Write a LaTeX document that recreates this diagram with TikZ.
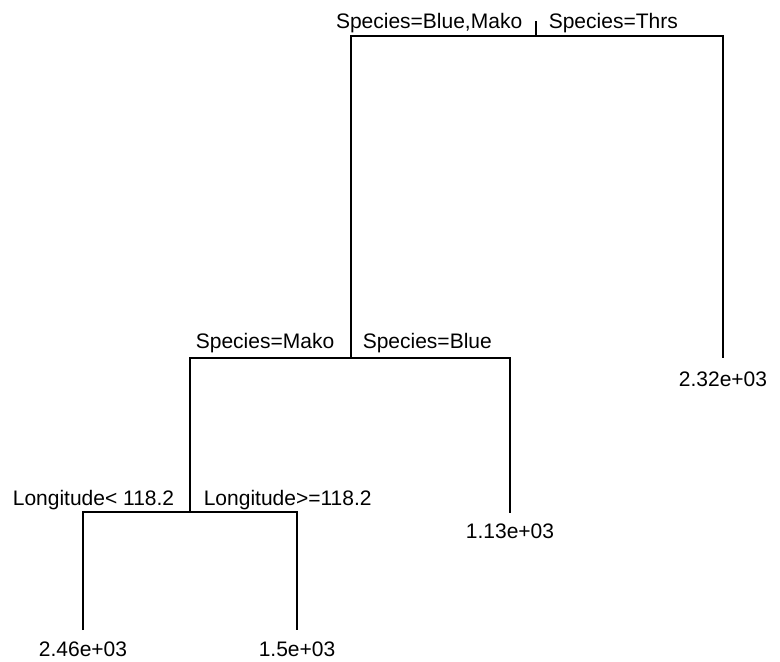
\documentclass[tikz,border=0pt]{standalone}
\usepackage{fontspec}
\setmainfont{Liberation Sans}
\usetikzlibrary{positioning}
\begin{document}
\begin{tikzpicture}[x=1pt,y=-1pt,line width=1.6pt,
    every node/.style={font=\fontsize{21}{25}\selectfont,inner sep=0pt}]
    \useasboundingbox (0,0) rectangle (780,662);

    \coordinate (t0) at (536,21);
    \coordinate (s1) at (536,36);
    \coordinate (s2) at (351,358);
    \coordinate (s3) at (190,512);

    \coordinate (e1) at (83,630);
    \coordinate (e2) at (297,630);
    \coordinate (e3) at (510,513);
    \coordinate (e4) at (723,358);

    \node[anchor=base east] (l1) at (523,28) {Species=Blue,Mako};
    \node[anchor=base west] (r1) at (548,28) {Species=Thrs};
    \node[anchor=base east] (l2) at (335,348) {Species=Mako};
    \node[anchor=base west] (r2) at (362,348) {Species=Blue};
    \node[anchor=base east] (l3) at (175,505) {Longitude< 118.2};
    \node[anchor=base west] (r3) at (203,505) {Longitude>=118.2};

    \node[anchor=base] (v1) at (83,656) {2.46e+03};
    \node[anchor=base] (v2) at (297,656) {1.5e+03};
    \node[anchor=base] (v3) at (510,538) {1.13e+03};
    \node[anchor=base] (v4) at (723,386) {2.32e+03};

    \draw (t0) -- (s1);
    \draw (s2) |- (s1) -| (e4);
    \draw (s3) |- (s2) -| (e3);
    \draw (e1) |- (s3) -| (e2);
\end{tikzpicture}
\end{document}
